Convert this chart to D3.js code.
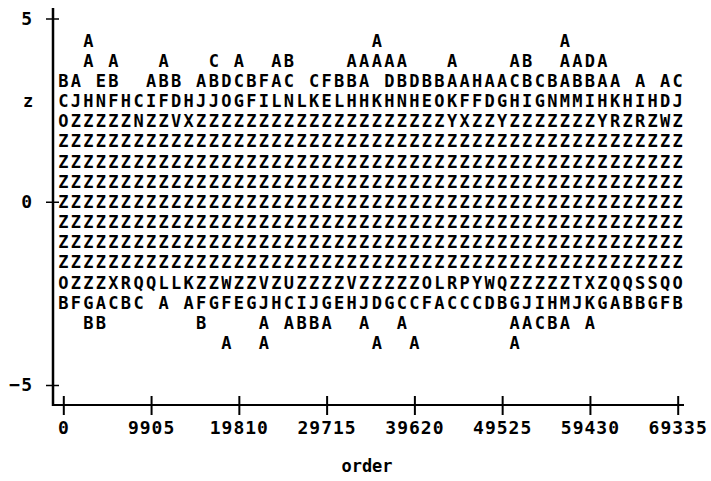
<!DOCTYPE html>
<html>
<head>
<meta charset="utf-8">
<script src="https://cdn.jsdelivr.net/npm/d3@7"></script>
<style>
  body { margin: 0; background: #fff; }
  svg { display: block; }
  text { font-family: "DejaVu Sans Mono", "Liberation Mono", monospace; font-weight: bold; fill: #000; }
</style>
</head>
<body>
<div class="chart"></div>
<script>
// Bins along the x axis (order value of each plot column)
var orderBins = [0, 1415, 2830, 4245, 5660, 7075, 8490, 9905, 11320, 12735,
    14150, 15565, 16980, 18395, 19810, 21225, 22640, 24055, 25470, 26885,
    28300, 29715, 31130, 32545, 33960, 35375, 36790, 38205, 39620, 41035,
    42450, 43865, 45280, 46695, 48110, 49525, 50940, 52355, 53770, 55185,
    56600, 58015, 59430, 60845, 62260, 63675, 65090, 66505, 67920, 69335];

// z level of each plot row
var zLevels = [4.4, 3.85, 3.3, 2.75, 2.2, 1.65, 1.1, 0.55, 0,
    -0.55, -1.1, -1.65, -2.2, -2.75, -3.3, -3.85];

// Count symbols per row, 10 bins per chunk ('.' = no observation)
var rowSymbols = [
    "..A......." + ".........." + ".....A...." + ".........." + "A.........",
    "..A.A...A." + "..C.A..AB." + "...AAAAA.." + ".A....AB.." + "AADA......",
    "BA.EB..ABB" + ".ABDCBFAC." + "CFBBA.DBDB" + "BAAHAACBCB" + "ABBAA.A.AC",
    "CJHNFHCIFD" + "HJJOGFILNL" + "KELHHKHNHE" + "OKFFDGHIGN" + "MMIHKHIHDJ",
    "OZZZZZNZZV" + "XZZZZZZZZZ" + "ZZZZZZZZZZ" + "ZYXZZYZZZZ" + "ZZZYRZRZWZ",
    "ZZZZZZZZZZ" + "ZZZZZZZZZZ" + "ZZZZZZZZZZ" + "ZZZZZZZZZZ" + "ZZZZZZZZZZ",
    "ZZZZZZZZZZ" + "ZZZZZZZZZZ" + "ZZZZZZZZZZ" + "ZZZZZZZZZZ" + "ZZZZZZZZZZ",
    "ZZZZZZZZZZ" + "ZZZZZZZZZZ" + "ZZZZZZZZZZ" + "ZZZZZZZZZZ" + "ZZZZZZZZZZ",
    "ZZZZZZZZZZ" + "ZZZZZZZZZZ" + "ZZZZZZZZZZ" + "ZZZZZZZZZZ" + "ZZZZZZZZZZ",
    "ZZZZZZZZZZ" + "ZZZZZZZZZZ" + "ZZZZZZZZZZ" + "ZZZZZZZZZZ" + "ZZZZZZZZZZ",
    "ZZZZZZZZZZ" + "ZZZZZZZZZZ" + "ZZZZZZZZZZ" + "ZZZZZZZZZZ" + "ZZZZZZZZZZ",
    "ZZZZZZZZZZ" + "ZZZZZZZZZZ" + "ZZZZZZZZZZ" + "ZZZZZZZZZZ" + "ZZZZZZZZZZ",
    "OZZZXRQQLL" + "KZZWZZVZUZ" + "ZZZVZZZZZO" + "LRPYWQZZZZ" + "ZTXZQQSSQO",
    "BFGACBC.A." + "AFGFEGJHCI" + "JGEHJDGCCF" + "ACCCDBGJIH" + "MJKGABBGFB",
    "..BB......" + ".B....A.AB" + "BA..A..A.." + "......AACB" + "A.A.......",
    ".........." + "...A..A..." + ".....A..A." + "......A..." + ".........."
];

var xTicks = [0, 9905, 19810, 29715, 39620, 49525, 59430, 69335];
var yTicks = [5, 0, -5];

// Configuration
var width = 711;
var height = 481;

var svg = d3.select(".chart").append("svg")
    .attr("width", width)
    .attr("height", height);

var x = d3.scaleLinear().domain([0, 69335]).range([63.3, 677.7]);
var y = d3.scaleLinear().domain([-5, 5]).range([385, 18.5]);

var axisX = 53, axisY = 405;

// Flatten rows into cells
var cells = [];
rowSymbols.forEach(function(row, r) {
    row.split("").forEach(function(ch, i) {
        if (ch !== "." && i < orderBins.length) cells.push({ order: orderBins[i], z: zLevels[r], sym: ch });
    });
});

svg.append("g").selectAll("text")
    .data(cells)
    .enter().append("text")
    .attr("x", function(d) { return x(d.order); })
    .attr("y", function(d) { return y(d.z); })
    .attr("dy", "0.36em")
    .attr("text-anchor", "middle")
    .style("font-size", "17px")
    .text(function(d) { return d.sym; });

// Axis lines
svg.append("line")
    .attr("x1", axisX).attr("x2", axisX)
    .attr("y1", 8).attr("y2", axisY + 1)
    .attr("stroke", "#000").attr("stroke-width", 2.5);
svg.append("line")
    .attr("x1", axisX - 1).attr("x2", 684)
    .attr("y1", axisY).attr("y2", axisY)
    .attr("stroke", "#000").attr("stroke-width", 2);

// x ticks
var gx = svg.append("g")
    .attr("transform", "translate(0," + axisY + ")")
    .call(d3.axisBottom(x).tickValues(xTicks).tickFormat(d3.format("d")).tickSize(10).tickPadding(6));
gx.select(".domain").remove();
gx.selectAll(".tick line").attr("y1", -9).attr("stroke", "#000").attr("stroke-width", 2);
gx.selectAll(".tick text")
    .style("font-size", "18px").style("letter-spacing", "1px")
    .attr("font-family", null);

// y ticks
var gy = svg.append("g")
    .attr("transform", "translate(" + axisX + ",0)")
    .call(d3.axisLeft(y).tickValues(yTicks).tickSize(7).tickPadding(13));
gy.select(".domain").remove();
gy.selectAll(".tick line").attr("x1", 6).attr("x2", -7).attr("stroke", "#000").attr("stroke-width", 1.5);
gy.selectAll(".tick text")
    .style("font-size", "18px").style("letter-spacing", "1px")
    .attr("font-family", null);

// Axis labels
svg.append("text")
    .attr("x", 28).attr("y", y(zLevels[3]))
    .attr("dy", "0.36em")
    .attr("text-anchor", "middle")
    .style("font-size", "17px")
    .text("z");

svg.append("text")
    .attr("x", 367).attr("y", 466)
    .attr("dy", "0.36em")
    .attr("text-anchor", "middle")
    .style("font-size", "17px")
    .text("order");
</script>
</body>
</html>
